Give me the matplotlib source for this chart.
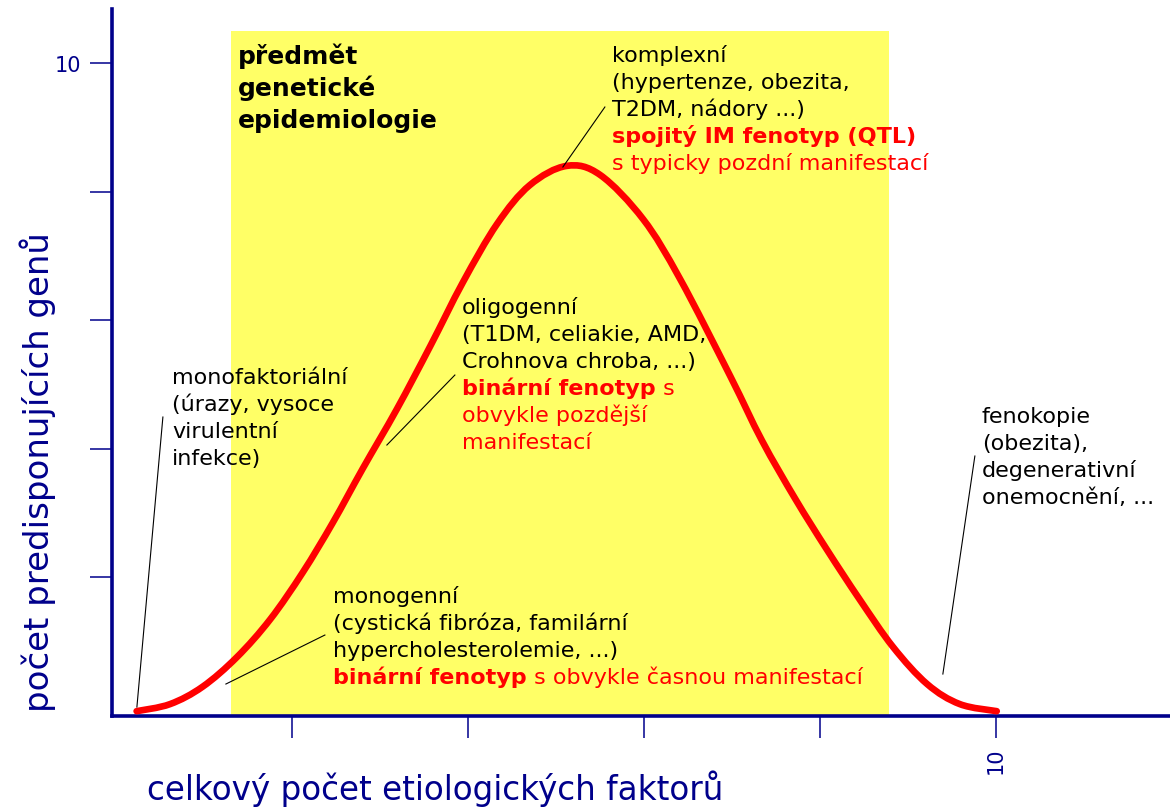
import matplotlib
matplotlib.use('Agg')
import matplotlib.pyplot as plt
from matplotlib.patches import Rectangle, PathPatch
from matplotlib.path import Path

# ---------------- data ----------------
curve_x = [0.23, 0.61, 0.98, 1.37, 1.75, 2.12, 2.46, 2.80, 3.19, 3.57, 3.94, 4.33,
           4.70, 5.12, 5.50, 5.99, 6.41, 6.98, 7.34, 7.72, 8.08, 8.45, 8.83, 9.22,
           9.59, 10.01]
curve_y = [-0.08, 0.03, 0.30, 0.76, 1.35, 2.08, 2.85, 3.69, 4.62, 5.60, 6.59, 7.50,
           8.10, 8.40, 8.26, 7.57, 6.64, 5.13, 4.13, 3.22, 2.43, 1.66, 0.92, 0.34,
           0.03, -0.08]

band_x = [1.30, 8.78]          # yellow band ("předmět genetické epidemiologie")
band_top = 10.50

x_ticks = [2, 4, 6, 8, 10]
x_tick_labels = ['', '', '', '', '10']
y_ticks = [2, 4, 6, 8, 10]
y_tick_labels = ['', '', '', '', '10']

x_label = 'celkový počet etiologických faktorů'
y_label = 'počet predisponujících genů'

title_lines = ['předmět', 'genetické', 'epidemiologie']
complex_lines = ['komplexní', '(hypertenze, obezita,', 'T2DM, nádory ...)']
complex_bold = 'spojitý IM fenotyp (QTL)'
complex_red = 's typicky pozdní manifestací'
oligo_lines = ['oligogenní', '(T1DM, celiakie, AMD,', 'Crohnova chroba, ...)']
oligo_bold = 'binární fenotyp'
oligo_tail = ' s'
oligo_red = ['obvykle pozdější', 'manifestací']
monof_lines = ['monofaktoriální', '(úrazy, vysoce', 'virulentní', 'infekce)']
monog_lines = ['monogenní', '(cystická fibróza, familární', 'hypercholesterolemie, ...)']
monog_bold = 'binární fenotyp'
monog_tail = ' s obvykle časnou manifestací'
feno_lines = ['fenokopie', '(obezita),', 'degenerativní', 'onemocnění, ...']

# ---------------- style ----------------
NAVY = '#00008B'
RED = '#FF0000'
YELLOW = '#FFFF66'
W, H = 1170, 812

fig = plt.figure(figsize=(W / 100, H / 100), dpi=100)
ax = fig.add_axes([112 / W, (H - 717) / H, (W - 112) / W, (717 - 10) / H])
ax.set_xlim(-0.05, 11.98)
ax.set_ylim(-0.155, 10.84)


def X(px):
    return (px - 116.5) / 87.95


def Y(py):
    return (707 - py) / 64.3


for s in ['top', 'right']:
    ax.spines[s].set_visible(False)
for s in ['left', 'bottom']:
    ax.spines[s].set_color(NAVY)
    ax.spines[s].set_linewidth(2.6)

ax.set_xticks(x_ticks)
ax.set_xticklabels(x_tick_labels, rotation=90)
ax.set_yticks(y_ticks)
ax.set_yticklabels(y_tick_labels)
ax.tick_params(direction='out', length=16, width=1.1, color=NAVY,
               labelcolor=NAVY, labelsize=15, pad=6)

ax.add_patch(Rectangle((band_x[0], -0.155), band_x[1] - band_x[0], band_top + 0.155,
                       facecolor=YELLOW, edgecolor='none', zorder=0.5))

# smooth curve through the read points (Catmull-Rom as cubic Bezier path)
pts = list(zip(curve_x, curve_y))
verts = [pts[0]]
codes = [Path.MOVETO]
n = len(pts)
for i in range(n - 1):
    p0 = pts[i - 1] if i > 0 else pts[i]
    p1 = pts[i]
    p2 = pts[i + 1]
    p3 = pts[i + 2] if i + 2 < n else pts[i + 1]
    c1 = (p1[0] + (p2[0] - p0[0]) / 6, p1[1] + (p2[1] - p0[1]) / 6)
    c2 = (p2[0] - (p3[0] - p1[0]) / 6, p2[1] - (p3[1] - p1[1]) / 6)
    verts += [c1, c2, p2]
    codes += [Path.CURVE4] * 3
ax.add_patch(PathPatch(Path(verts, codes), facecolor='none', edgecolor=RED,
                       lw=4.8, capstyle='round', joinstyle='round', zorder=3))

# leader lines
leaders = [((163, 418), (137, 708)),
           ((325, 636), (226, 685)),
           ((455, 376), (387, 446)),
           ((605, 108), (563, 168)),
           ((975, 457), (943, 675))]
for (a, b) in leaders:
    ax.plot([X(a[0]), X(b[0])], [Y(a[1]), Y(b[1])], color='black', lw=0.8, zorder=4)

FS = 16


def put(px, py, s, color='black', weight='normal', size=FS):
    return ax.text(X(px), Y(py), s, color=color, fontweight=weight, fontsize=size,
                   ha='left', va='baseline', zorder=5)


for s, b in zip(title_lines, [64, 96, 128]):
    put(238, b, s, weight='bold', size=18)

for s, b in zip(complex_lines, [62, 89, 116]):
    put(612, b, s)
put(612, 143, complex_bold, color=RED, weight='bold')
put(612, 170, complex_red, color=RED)

for s, b in zip(oligo_lines, [314, 341, 368]):
    put(462, b, s)
t_ob = put(462, 395, oligo_bold, color=RED, weight='bold')
for s, b in zip(oligo_red, [422, 449]):
    put(462, b, s, color=RED)

for s, b in zip(monof_lines, [384, 411, 438, 465]):
    put(172, b, s)

for s, b in zip(monog_lines, [603, 630, 657]):
    put(333, b, s)
t_mb = put(333, 684, monog_bold, color=RED, weight='bold')

for s, b in zip(feno_lines, [423, 450, 477, 504]):
    put(982, b, s)

fig.canvas.draw()
r = fig.canvas.get_renderer()
inv = ax.transData.inverted()
for t, tail in [(t_ob, oligo_tail), (t_mb, monog_tail)]:
    bb = t.get_window_extent(renderer=r)
    xd = inv.transform((bb.x1, 0))[0]
    ax.text(xd, t.get_position()[1], tail, color=RED, fontsize=FS,
            ha='left', va='baseline', zorder=5)

# axis titles
fig.text(435 / W, (H - 800) / H, x_label, color=NAVY, fontsize=23.5,
         ha='center', va='baseline')
fig.text(38 / W, (H - 472) / H, y_label, color=NAVY, fontsize=24.5,
         ha='center', va='center', rotation=90)

fig.savefig('out.png', dpi=100)
